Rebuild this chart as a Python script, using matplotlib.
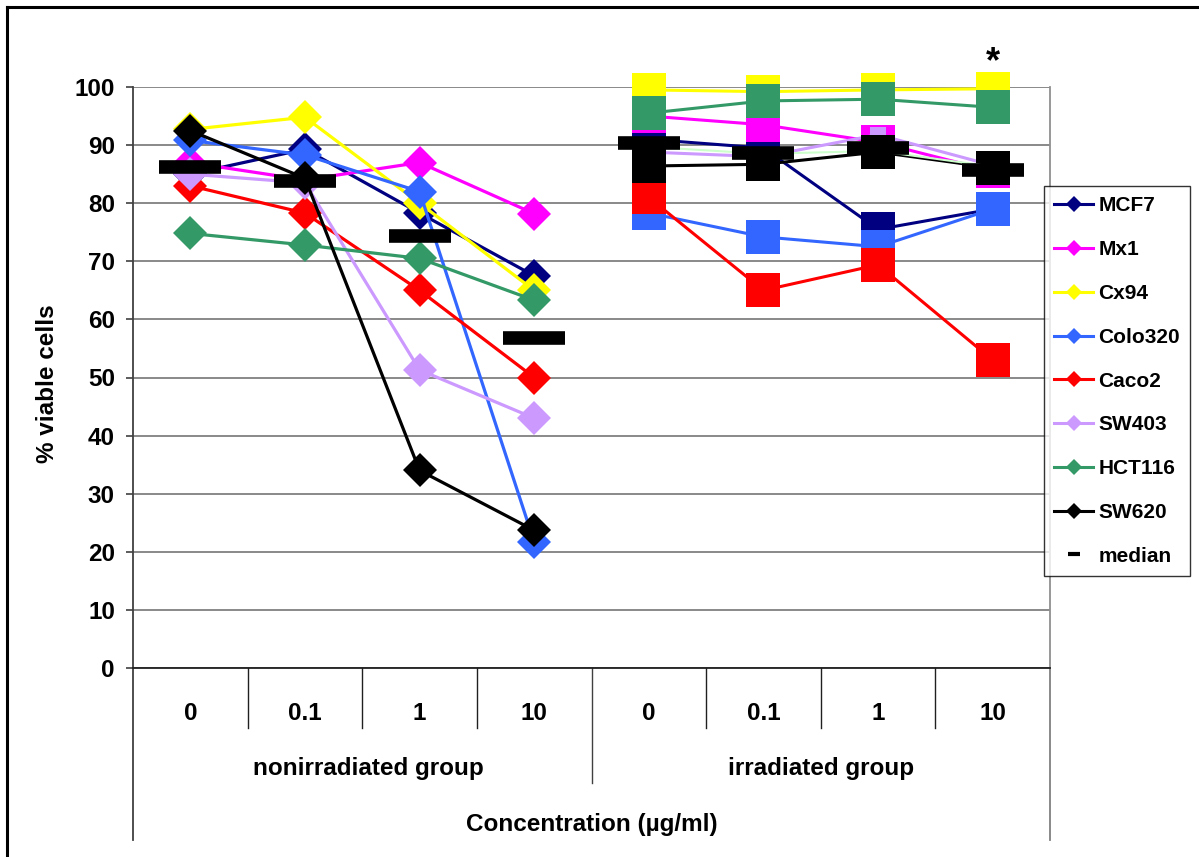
import matplotlib
matplotlib.use("Agg")
import matplotlib.pyplot as plt
from matplotlib.lines import Line2D

plt.rcParams['font.family'] = ['Liberation Sans', 'DejaVu Sans']
plt.rcParams['font.weight'] = 'bold'

# ---------------- data ----------------
concentrations = ["0", "0.1", "1", "10"]
groups = ["nonirradiated group", "irradiated group"]
cell_lines = ["MCF7", "Mx1", "Cx94", "Colo320", "Caco2", "SW403", "HCT116", "SW620"]
colors = ["#000080", "#FF00FF", "#FFFF00", "#3366FF", "#FF0000", "#CC99FF", "#339966", "#000000"]

nonirr_MCF7    = [85.0, 89.3, 78.3, 67.5]
nonirr_Mx1     = [87.0, 84.0, 87.0, 78.2]
nonirr_Cx94    = [92.7, 94.8, 80.0, 65.0]
nonirr_Colo320 = [90.8, 88.3, 82.0, 21.7]
nonirr_Caco2   = [83.0, 78.3, 65.0, 50.0]
nonirr_SW403   = [85.0, 83.5, 51.3, 43.0]
nonirr_HCT116  = [74.8, 72.8, 70.5, 63.3]
nonirr_SW620   = [92.5, 84.3, 34.0, 23.7]
nonirr_median  = [86.2, 83.8, 74.4, 56.8]

irr_MCF7    = [91.0, 89.5, 75.5, 79.0]
irr_Mx1     = [95.0, 93.5, 90.5, 85.5]
irr_Cx94    = [99.5, 99.2, 99.5, 99.7]
irr_Colo320 = [78.3, 74.2, 72.5, 79.0]
irr_Caco2   = [81.0, 65.0, 69.4, 53.0]
irr_SW403   = [88.8, 88.0, 91.8, 86.5]
irr_HCT116  = [95.5, 97.6, 97.9, 96.5]
irr_SW620   = [86.4, 86.7, 88.8, 86.1]
irr_extra   = [89.7, 88.5, 89.0, 86.3]
irr_median  = [90.3, 88.6, 89.5, 85.7]

nonirr = [nonirr_MCF7, nonirr_Mx1, nonirr_Cx94, nonirr_Colo320,
          nonirr_Caco2, nonirr_SW403, nonirr_HCT116, nonirr_SW620]
irr = [irr_MCF7, irr_Mx1, irr_Cx94, irr_Colo320,
       irr_Caco2, irr_SW403, irr_HCT116, irr_SW620]

yticks = [0, 10, 20, 30, 40, 50, 60, 70, 80, 90, 100]

# ---------------- figure ----------------
W, H = 1199, 857
fig = plt.figure(figsize=(W / 100, H / 100), dpi=100)
ax = fig.add_axes([133 / W, 1 - 668 / H, (1050 - 133) / W, (668 - 87) / H])

x_non = [0, 1, 2, 3]
x_irr = [4, 5, 6, 7]

for vals, c, name in zip(nonirr, colors, cell_lines):
    ax.plot(x_non, vals, color=c, lw=2.3, marker='D', ms=17.5, mew=0,
            clip_on=False, zorder=3)
ax.plot(x_non, nonirr_median, ls='none', marker='_', ms=44.5, mew=9.8,
        color='black', clip_on=False, zorder=5)

for vals, c, name in zip(irr, colors, cell_lines):
    ms = 12 if name == "SW403" else 24
    ax.plot(x_irr, vals, color=c, lw=2.2, marker='s', ms=ms, mew=0,
            clip_on=False, zorder=3)
ax.plot(x_irr, irr_extra, color="#CCFFCC", lw=1.5, clip_on=False, zorder=3)
ax.plot(x_irr, irr_median, ls='none', marker='_', ms=44.5, mew=9.8,
        color='black', clip_on=False, zorder=5)

ax.text(7, 104.2, "*", ha='center', va='center', fontsize=26,
        fontweight='bold')

# axes styling
ax.set_xlim(-0.5, 7.5)
ax.set_ylim(0, 100)
ax.set_yticks(yticks)
ax.set_yticklabels([str(t) for t in yticks], fontsize=17.5, fontweight='bold')
ax.tick_params(axis='y', length=5, width=1.2, color='#404040', pad=8)
ax.set_xticks([])
ax.yaxis.grid(True, color='#808080', lw=1.3)
ax.set_axisbelow(True)
ax.spines['top'].set_visible(False)
ax.spines['left'].set_color('#404040')
ax.spines['left'].set_linewidth(1.3)
ax.spines['right'].set_color('#909090')
ax.spines['right'].set_linewidth(1.3)
ax.spines['bottom'].set_color('#202020')
ax.spines['bottom'].set_linewidth(1.3)

ax.set_ylabel("% viable cells", fontsize=17.5, fontweight='bold')
ax.yaxis.set_label_coords(-0.081, 0.49)

# multi-level category axis
tr = ax.get_xaxis_transform()
ax.plot([-0.5, -0.5], [0, -0.296], transform=tr, color='#404040', lw=1.3, clip_on=False)
ax.plot([7.5, 7.5], [0, -0.296], transform=tr, color='#808080', lw=1.3, clip_on=False)
ax.plot([3.5, 3.5], [0, -0.198], transform=tr, color='#404040', lw=1.0, clip_on=False)
for b in [0.5, 1.5, 2.5, 4.5, 5.5, 6.5]:
    ax.plot([b, b], [0, -0.103], transform=tr, color='#202020', lw=1.0, clip_on=False)

for i in range(8):
    ax.text(i, -0.079, concentrations[i % 4], transform=tr, ha='center',
            va='center', fontsize=17.5, fontweight='bold')
ax.text(1.55, -0.173, groups[0], transform=tr, ha='center', va='center',
        fontsize=17.5, fontweight='bold')
ax.text(5.5, -0.173, groups[1], transform=tr, ha='center', va='center',
        fontsize=17.5, fontweight='bold')
ax.text(3.5, -0.269, "Concentration (µg/ml)", transform=tr, ha='center',
        va='center', fontsize=17.5, fontweight='bold')

# legend
handles = [Line2D([], [], color=c, lw=2.2, marker='D', ms=8.5, mew=0)
           for c in colors]
handles.append(Line2D([], [], ls='none', marker='_', ms=9, mew=3, color='black'))
labels = cell_lines + ["median"]
leg = fig.legend(handles, labels, loc='upper left',
                 bbox_to_anchor=(1044 / W, 1 - 186 / H),
                 bbox_transform=fig.transFigure, borderaxespad=0,
                 handlelength=1.85, handletextpad=0.25,
                 labelspacing=1.19, borderpad=0.5, frameon=True,
                 fancybox=False, prop={'weight': 'bold', 'size': 15})
leg.get_frame().set_edgecolor('black')
leg.get_frame().set_linewidth(1.0)

# outer border (top and left visible)
fig.add_artist(Line2D([7 / W, 1.0], [1 - 7 / H, 1 - 7 / H], color='black', lw=2.2))
fig.add_artist(Line2D([7 / W, 7 / W], [0, 1 - 7 / H], color='black', lw=2.2))

fig.savefig("out.png", dpi=100)
